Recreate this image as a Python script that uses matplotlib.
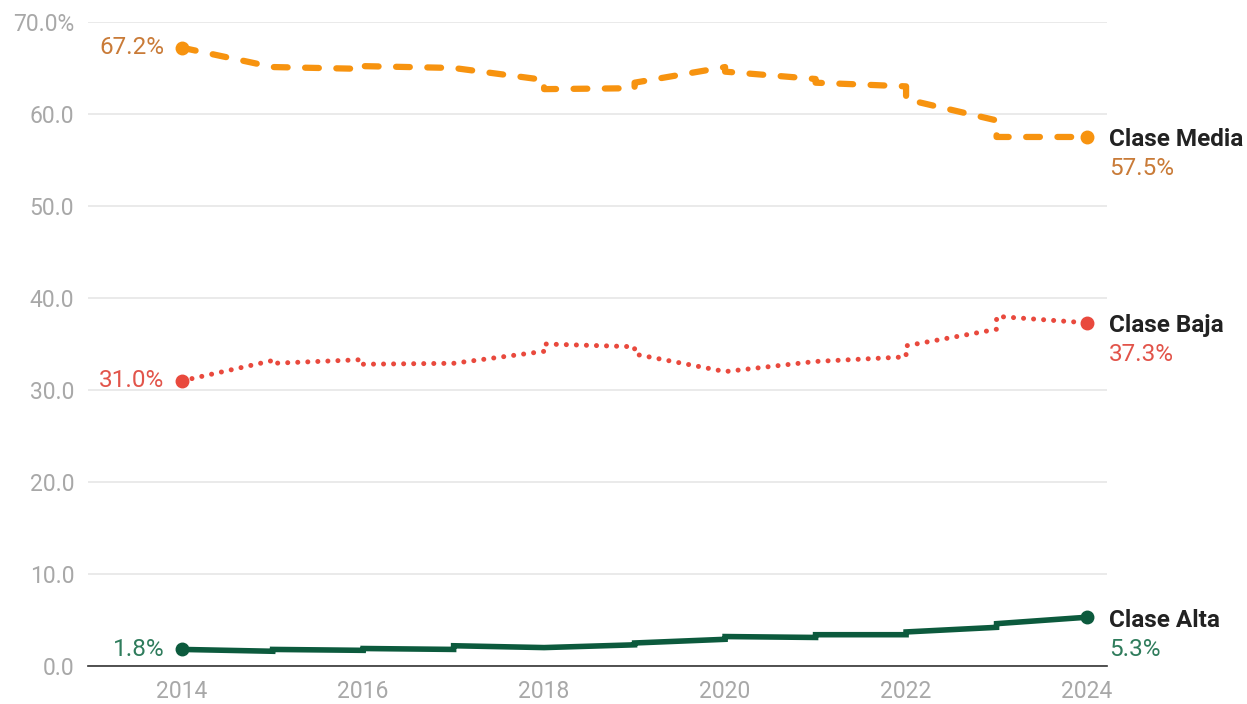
import matplotlib
matplotlib.use("Agg")
import matplotlib.pyplot as plt

# ---- data (two values in a year = jump at that year) ----
media_x = [2014, 2015, 2016, 2016, 2017, 2018, 2018, 2019, 2019, 2020, 2020,
           2021, 2021, 2022, 2022, 2023, 2023, 2024]
media_y = [67.2, 65.1, 64.9, 65.2, 65.0, 63.7, 62.7, 62.8, 63.4, 65.1, 64.6,
           63.8, 63.4, 63.0, 61.6, 59.3, 57.5, 57.5]

baja_x = [2014, 2015, 2015, 2016, 2016, 2017, 2018, 2018, 2019, 2019, 2020,
          2021, 2022, 2022, 2023, 2023, 2024]
baja_y = [31.0, 33.2, 32.9, 33.3, 32.8, 32.9, 34.2, 35.0, 34.7, 33.9, 32.0,
          33.1, 33.6, 34.8, 36.6, 38.0, 37.3]

alta_x = [2014, 2015, 2015, 2016, 2016, 2017, 2017, 2018, 2019, 2019, 2020,
          2020, 2021, 2021, 2022, 2022, 2023, 2023, 2024]
alta_y = [1.8, 1.6, 1.8, 1.7, 1.9, 1.8, 2.2, 2.0, 2.3, 2.5, 2.9,
          3.2, 3.1, 3.4, 3.4, 3.7, 4.2, 4.6, 5.3]

series_names = ["Clase Media", "Clase Baja", "Clase Alta"]
first_labels = ["67.2%", "31.0%", "1.8%"]
last_labels = ["57.5%", "37.3%", "5.3%"]

x_ticks = [2014, 2016, 2018, 2020, 2022, 2024]
y_ticks = [0, 10, 20, 30, 40, 50, 60, 70]
y_ticklabels = ["0.0", "10.0", "20.0", "30.0", "40.0", "50.0", "60.0", "70.0%"]

# ---- style ----
plt.rcParams["font.family"] = ["Roboto", "DejaVu Sans"]

line_col = ["#f7930f", "#e9493d", "#0c5a3d"]
text_col = ["#c97b38", "#e2544a", "#2f7c5c"]
fs = 16.5
fs_lab = 17.5

fig = plt.figure(figsize=(12.47, 7.04), dpi=100)
ax = fig.add_axes([0.0706, 0.054, 0.8171, 0.9148])

ax.plot(media_x, media_y, color=line_col[0], lw=4.5, ls=(0, (2.2, 2.8)),
        dash_capstyle="round", solid_capstyle="round", zorder=3)
ax.plot(baja_x, baja_y, color=line_col[1], lw=3.6, ls=(0, (0.01, 2.0)),
        dash_capstyle="round", zorder=3)
ax.plot(alta_x, alta_y, color=line_col[2], lw=4.0,
        solid_capstyle="round", solid_joinstyle="miter", zorder=3)

xs = [media_x, baja_x, alta_x]
ys = [media_y, baja_y, alta_y]
for i in range(3):
    ax.plot([xs[i][0], xs[i][-1]], [ys[i][0], ys[i][-1]], "o",
            color=line_col[i], ms=9, zorder=4)
    ax.annotate(first_labels[i], (xs[i][0], ys[i][0]), xytext=(-13, 0),
                textcoords="offset points", ha="right", va="center",
                fontsize=fs_lab, color=text_col[i])
    ax.annotate(series_names[i], (xs[i][-1], ys[i][-1]), xytext=(16, -2),
                textcoords="offset points", ha="left", va="center",
                fontsize=fs_lab, fontweight="bold", color="#222222",
                annotation_clip=False)
    ax.annotate(last_labels[i], (xs[i][-1], ys[i][-1]), xytext=(16, -23),
                textcoords="offset points", ha="left", va="center",
                fontsize=fs_lab, color=text_col[i], annotation_clip=False)

ax.set_xlim(2012.96, 2024.22)
ax.set_ylim(0, 70)
ax.set_xticks(x_ticks)
ax.set_xticklabels([str(t) for t in x_ticks])
ax.set_yticks(y_ticks)
ax.set_yticklabels(y_ticklabels)
ax.tick_params(axis="both", length=0, labelsize=fs, labelcolor="#a8a8a8")
ax.tick_params(axis="y", pad=10)
ax.tick_params(axis="x", pad=10)

ax.grid(axis="y", color="#e6e6e6", lw=1.2)
ax.set_axisbelow(True)
for s in ["top", "right", "left"]:
    ax.spines[s].set_visible(False)
ax.spines["bottom"].set_color("#333333")
ax.spines["bottom"].set_linewidth(1.2)

fig.savefig("out.png", dpi=100)
